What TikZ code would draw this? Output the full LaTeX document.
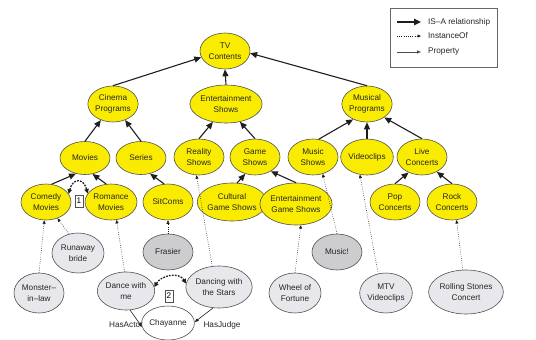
\documentclass[tikz,border=0pt]{standalone}
\usepackage{fontspec}
\setmainfont{Liberation Sans}
\usetikzlibrary{shapes.geometric,arrows.meta}
\definecolor{ylw}{RGB}{250,236,0}
\definecolor{edgegrey}{RGB}{80,80,80}
\definecolor{instgrey}{RGB}{232,232,236}
\definecolor{instdark}{RGB}{205,205,208}
\definecolor{linek}{RGB}{30,30,30}
\begin{document}
\begin{tikzpicture}[x=1pt,y=-1pt,
  font=\fontsize{8.2}{10.8}\selectfont,
  sz/.style args={#1/#2}{minimum width=#1pt,minimum height=#2pt},
  ell/.style={ellipse,draw=edgegrey,line width=0.6pt,inner sep=0pt,align=center,text=black!85},
  cls/.style={ell,fill=ylw},
  inst/.style={ell,fill=instgrey},
  instd/.style={ell,fill=instdark},
  isa/.style={draw=linek,line width=1.1pt,-{Triangle[length=7pt,width=6pt]}},
  inof/.style={draw=linek,line width=0.6pt,dash pattern=on 0.6pt off 1.6pt,-{Triangle[length=3.5pt,width=3pt]}},
  prop/.style={draw=linek,line width=0.6pt,-{Triangle[length=4pt,width=3pt]}},
  darc/.style={draw=linek,line width=1.3pt,dash pattern=on 1.8pt off 1.2pt,{Triangle[length=4.5pt,width=4.5pt]}-{Triangle[length=4.5pt,width=4.5pt]}},
  numbox/.style={draw=edgegrey,line width=0.6pt,fill=white,inner sep=0pt,minimum width=8pt,minimum height=12pt},
  lbl/.style={inner sep=0pt,text=black!85}]
\useasboundingbox (0,0) rectangle (536,340);

% classes
\node[cls,sz=50/36] (tv)  at (225,51)  {TV\\Contents};
\node[cls,sz=50/36] (cin) at (113,104) {Cinema\\Programs};
\node[cls,sz=68/38] (ent) at (226,104) {Entertainment\\Shows};
\node[cls,sz=50/36] (mus) at (367,104) {Musical\\Programs};
\node[cls,sz=50/33] (mov) at (85,158)  {Movies};
\node[cls,sz=50/33] (ser) at (141,158) {Series};
\node[cls,sz=50/36] (rea) at (199,157) {Reality\\Shows};
\node[cls,sz=50/36] (gam) at (255,157) {Game\\Shows};
\node[cls,sz=50/36] (msh) at (313,157) {Music\\Shows};
\node[cls,sz=50/36] (vid) at (367,157) {Videoclips};
\node[cls,sz=50/36] (liv) at (422,157) {Live\\Concerts};
\node[cls,sz=50/36] (com) at (46,202)  {Comedy\\Movies};
\node[cls,sz=52/36] (rom) at (111,202) {Romance\\Movies};
\node[cls,sz=50/36] (sit) at (168,202) {SitComs};
\node[cls,sz=58/38] (cul) at (232,202) {Cultural\\Game Shows};
\node[cls,sz=58/42] (egs) at (296,204) {Entertainment\\Game Shows};
\node[cls,sz=50/36] (pop) at (395,202) {Pop\\Concerts};
\node[cls,sz=50/36] (roc) at (452,202) {Rock\\Concerts};

% instances
\node[inst,sz=52/40]  (run) at (78,253)  {Runaway\\bride};
\node[instd,sz=50/36] (fra) at (168,252) {Frasier};
\node[instd,sz=50/36] (mui) at (337,252) {Music!};
\node[inst,sz=50/40]  (mon) at (39,293)  {Monster–\\in–law};
\node[inst,sz=52/38]  (dwm) at (126,291) {Dance with\\me};
\node[inst,sz=58/42]  (dws) at (219,287) {Dancing with\\the Stars};
\node[ell,fill=white,sz=48/34] (cha) at (168,323) {Chayanne};
\node[inst,sz=52/40]  (whe) at (295,293) {Wheel of\\Fortune};
\node[inst,sz=52/40]  (mtv) at (386,293) {MTV\\Videoclips};
\node[inst,sz=62/44]  (rol) at (466,292) {Rolling Stones\\Concert};

% IS-A
\draw[isa] (cin.north) -- (tv.195);
\draw[isa] (ent.north) -- (tv.south);
\draw[isa] (mus.north) -- (tv.355);
\draw[isa] (mov.north) -- (cin.233);
\draw[isa] (ser.north) -- (cin.307);
\draw[isa] (rea.north) -- (ent.234);
\draw[isa] (gam.north) -- (ent.308);
\draw[isa] (msh.72) -- (mus.228);
\draw[isa] (vid.north) -- (mus.south);
\draw[isa] (liv.north) -- (mus.322);
\draw[isa] (com.72) -- (mov.240);
\draw[isa] (rom.105) -- (mov.295);
\draw[isa] (sit.102) -- (ser.300);
\draw[isa] (cul.75) -- (gam.240);
\draw[isa] (egs.north) -- (gam.318);
\draw[isa] (pop.north) -- (liv.229);
\draw[isa] (roc.north) -- (liv.315);

% InstanceOf
\draw[inof] (run.115) -- (com.305);
\draw[inof] (mon.north) -- (com.265);
\draw[inof] (dwm.94) -- (rom.287);
\draw[inof] (fra.north) -- (sit.south);
\draw[inof] (dws.108) -- (rea.262);
\draw[inof] (mui.north) -- (msh.300);
\draw[inof] (whe.north) -- (egs.283);
\draw[inof] (mtv.112) -- (vid.248);
\draw[inof] (rol.98) -- (roc.284);

% Property
\draw[prop] (dwm.282) -- (cha.188);
\draw[prop] (dws.254) -- (cha.2);
\node[lbl] (hasactor) at (126,325) {HasActor};
\node[lbl] (hasjudge) at (222,325) {HasJudge};

% similarity arcs
\draw[darc] (com.20) to[out=75,in=105,looseness=2.2] (rom.160);
\node[numbox] (b1) at (79,201) {1};
\draw[darc] (dwm.8) to[out=60,in=120,looseness=1.1] (dws.174);
\node[numbox] (b2) at (169,296) {2};

% legend
\node[draw=black!60,line width=0.7pt,minimum width=107pt,minimum height=59pt,inner sep=0pt] (legend) at (443.5,37.5) {};
\coordinate (l1a) at (397,22); \coordinate (l1b) at (421,22);
\coordinate (l2a) at (397,36); \coordinate (l2b) at (421,36);
\coordinate (l3a) at (397,52); \coordinate (l3b) at (421,52);
\draw[isa,line width=1.3pt,-{Triangle[length=7pt,width=6.5pt]}] (l1a) -- (l1b);
\draw[inof] (l2a) -- (l2b);
\draw[prop,draw=black!70,line width=0.9pt] (l3a) -- (l3b);
\node[lbl,anchor=west] (t1) at (428,22) {IS–A relationship};
\node[lbl,anchor=west] (t2) at (428,36) {InstanceOf};
\node[lbl,anchor=west] (t3) at (428,52) {Property};
\end{tikzpicture}
\end{document}
